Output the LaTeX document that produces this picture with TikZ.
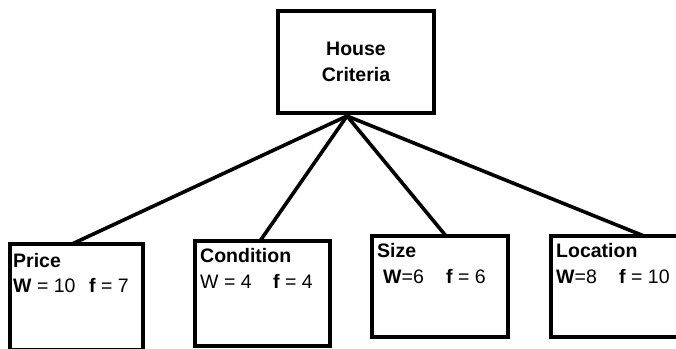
\documentclass[tikz,border=0pt]{standalone}
\usepackage{fontspec}
\setmainfont{Liberation Sans}
\begin{document}
\begin{tikzpicture}[x=1pt,y=-1pt,
  box/.style={draw=black,line width=3.6pt,fill=white,rectangle,inner sep=0pt,outer sep=0pt},
  edge/.style={draw=black,line width=3.6pt},
  lbl/.style={anchor=base west,inner sep=0pt,font=\fontsize{19.5}{23}\selectfont},
  ttl/.style={align=center,inner sep=0pt,font=\fontsize{19.5}{26}\selectfont\bfseries}]
\useasboundingbox (0,0) rectangle (676,348);
\clip (0,0) rectangle (676,348);
% boxes
\node[box,minimum width=156pt,minimum height=102pt] (topbox) at (356,62) {};
\node[box,minimum width=133pt,minimum height=106pt] (pbox) at (76.5,297) {};
\node[box,minimum width=135pt,minimum height=105pt] (cbox) at (262.5,293.5) {};
\node[box,minimum width=136pt,minimum height=101pt] (sbox) at (440,286.5) {};
\node[box,minimum width=139pt,minimum height=101pt] (lbox) at (620.5,286.5) {};
% connectors
\coordinate (apex) at (347,116);
\coordinate (pT) at (72,0 |- pbox.north);
\coordinate (cT) at (260,0 |- cbox.north);
\coordinate (sT) at (446,0 |- sbox.north);
\coordinate (lT) at (644,0 |- lbox.north);
\begin{scope}[on background layer/.try]
\end{scope}
\draw[edge] (apex) -- (pT);
\draw[edge] (apex) -- (cT);
\draw[edge] (apex) -- (sT);
\draw[edge] (apex) -- (lT);
% redraw top box border over line joins
\node[box,fill=none,minimum width=156pt,minimum height=102pt] at (topbox.center) {};
% texts
\node[ttl] (house) at (356,62) {House\\Criteria};
\node[lbl] (price) at (13,267) {\bfseries Price};
\node[lbl] (pW) at (13,292) {\textbf{W} = 10};
\node[lbl] (pf) at (89,292) {\textbf{f} = 7};
\node[lbl] (cond) at (200,262) {\bfseries Condition};
\node[lbl] (cW) at (200,288) {W = 4};
\node[lbl] (cf) at (273,288) {\textbf{f} = 4};
\node[lbl] (size) at (377,257) {\bfseries Size};
\node[lbl] (sW) at (383,283) {\textbf{W}=6};
\node[lbl] (sf) at (446,283) {\textbf{f} = 6};
\node[lbl] (loc) at (556,257) {\bfseries Location};
\node[lbl] (lW) at (556,283) {\textbf{W}=8};
\node[lbl] (lf) at (619,283) {\textbf{f} = 10};
\end{tikzpicture}
\end{document}
